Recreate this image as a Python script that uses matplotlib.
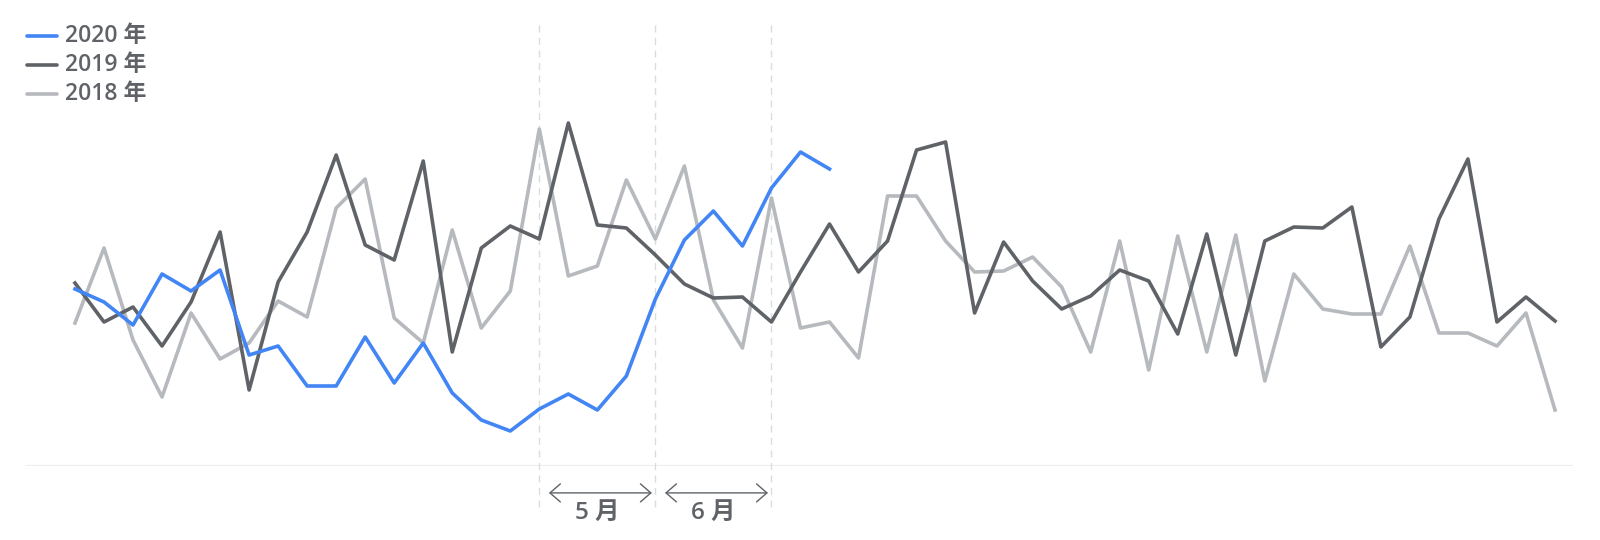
import matplotlib
matplotlib.use("Agg")
import matplotlib.pyplot as plt
from matplotlib.lines import Line2D

# weekly values, index 0..51
weeks = list(range(52))
y2020 = [177, 164, 141, 192, 175, 196, 111, 120, 80, 80, 129, 83, 123, 73,
         46, 35, 57, 72, 56, 90, 167, 226, 255, 220, 278, 314, 297]
y2019 = [183, 144, 159, 120, 164, 234, 76, 184, 234, 311, 221, 206, 305, 114,
         218, 240, 227, 343, 241, 238, 211, 182, 168, 169, 144, 194, 242, 194,
         225, 316, 324, 153, 224, 185, 157, 170, 196, 185, 132, 232, 111, 225,
         239, 238, 259, 119, 149, 247, 307, 144, 169, 145]
y2018 = [143, 218, 126, 69, 153, 107, 123, 165, 149, 258, 287, 148, 123, 236,
         138, 175, 337, 190, 200, 286, 227, 300, 166, 118, 268, 138, 144, 108,
         270, 270, 225, 194, 195, 209, 179, 114, 225, 96, 230, 114, 231, 85,
         192, 157, 152, 152, 220, 133, 133, 120, 153, 56]
series_labels = ["2020 年", "2019 年", "2018 年"]
month_labels = ["5 月", "6 月"]
month_edges = [16, 20, 24]

colors = ["#4285f4", "#5f6368", "#b6b9bd"]
text_color = "#5f6368"

plt.rcParams["font.family"] = ["Open Sans", "Noto Sans CJK SC", "DejaVu Sans"]

fig = plt.figure(figsize=(16, 5.4), dpi=100)
ax = fig.add_axes([26 / 1600, 74 / 540, (1573 - 26) / 1600, 441 / 540])
ax.set_xlim(-1.688, 51.62)
ax.set_ylim(0, 441)
ax.axis("off")

# baseline and month separators
ax.axhline(0, color="#eceef0", lw=1.6, zorder=1)
ax.vlines(month_edges, -41, 441, colors="#dadce0", lw=1,
          linestyles=(0, (5, 4)), clip_on=False, zorder=1)

lw = 2.6
ax.plot(weeks, y2018, color=colors[2], lw=lw, zorder=2)
ax.plot(weeks, y2019, color=colors[1], lw=lw, zorder=3)
ax.plot(weeks[:len(y2020)], y2020, color=colors[0], lw=lw, zorder=4)

# month spans under the axis
tr = ax.get_xaxis_transform()
for i, lab in enumerate(month_labels):
    a, b = month_edges[i], month_edges[i + 1]
    ax.annotate("", xy=(b - 0.12, -0.061), xytext=(a + 0.33, -0.061),
                xycoords=tr, textcoords=tr, annotation_clip=False,
                arrowprops=dict(arrowstyle="<->,head_length=0.75,head_width=0.65",
                                color=text_color, lw=1, shrinkA=0, shrinkB=0,
                                mutation_scale=10))
    ax.text((a + b) / 2, -0.106, lab, transform=tr, ha="center", va="center",
            fontsize=17.5, color=text_color, fontweight=600, clip_on=False)

# legend at top-left
for i, lab in enumerate(series_labels):
    yy = 1 - (36 + i * 29) / 540
    fig.add_artist(Line2D([27 / 1600, 57 / 1600], [yy, yy], transform=fig.transFigure,
                          color=colors[i], lw=lw, solid_capstyle="round"))
    fig.text(65 / 1600, yy, lab, ha="left", va="center", fontsize=16.5,
             color=text_color, fontweight=600)

fig.savefig("out.png", dpi=100)
